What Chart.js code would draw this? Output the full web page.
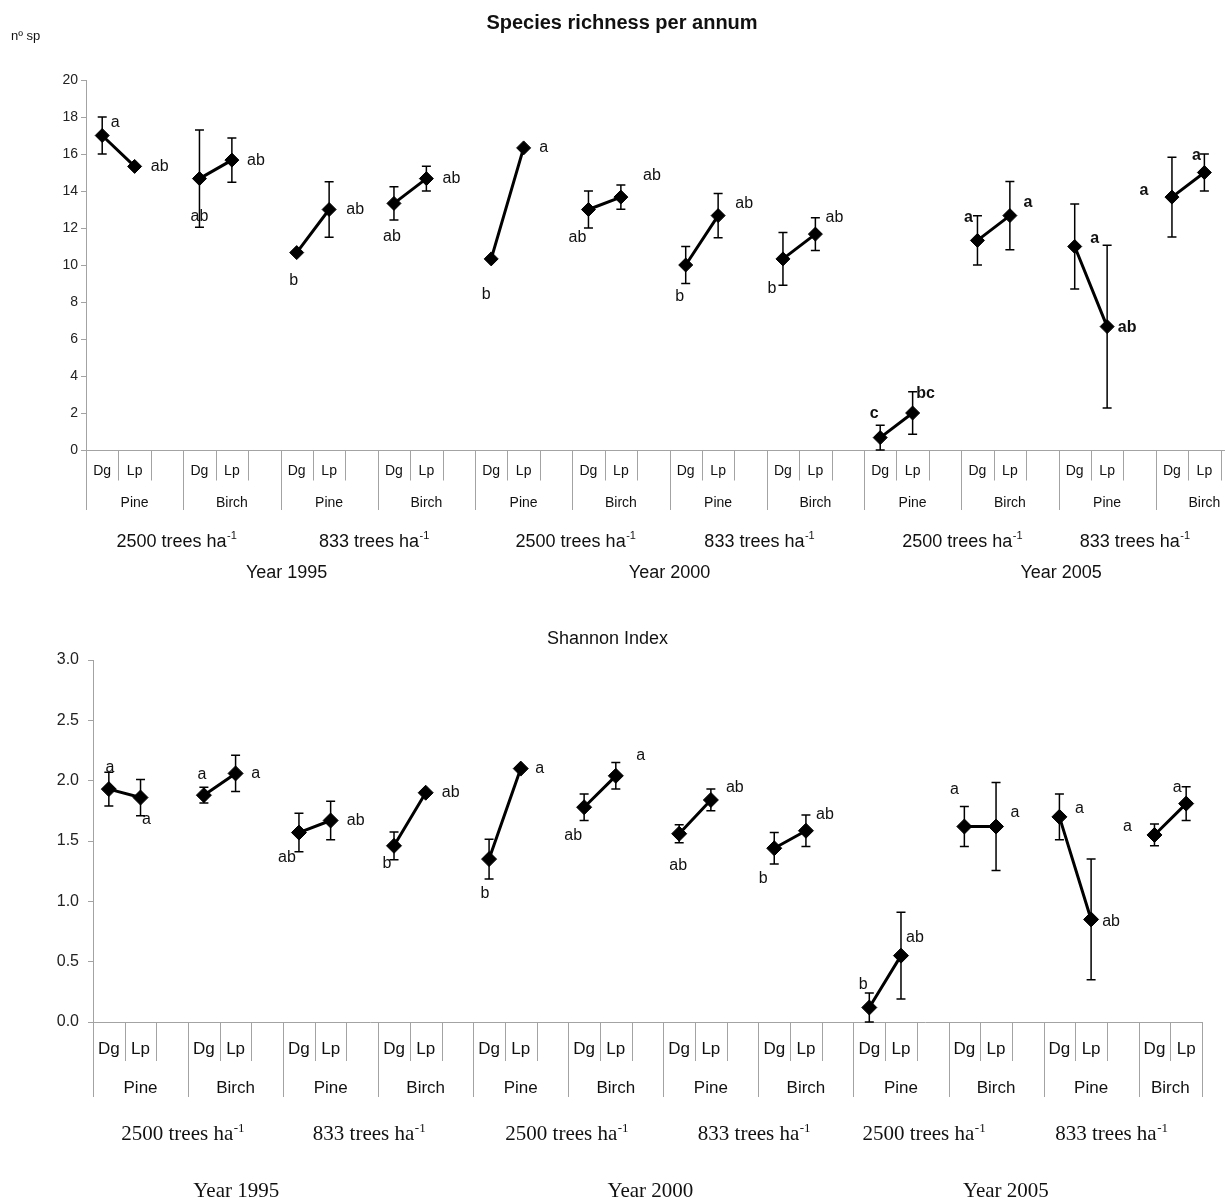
<!DOCTYPE html>
<html>
<head>
<meta charset="utf-8">
<script src="https://cdn.jsdelivr.net/npm/chart.js@4.4.1/dist/chart.umd.min.js"></script>
<style>
  html, body { margin: 0; padding: 0; background: #fff; overflow: hidden; }
  #wrap { position: relative; width: 1225px; height: 1200px; overflow: hidden; }
  #richChart { position: absolute; left: 0; top: 0; }
  #shannonChart { position: absolute; left: 0; top: 600px; }
</style>
</head>
<body>
<div id="wrap">
  <canvas id="richChart" width="1261" height="600"></canvas>
  <canvas id="shannonChart" width="1225" height="600"></canvas>
</div>
<script>
const SANS = "'Liberation Sans', Arial, sans-serif";
const SERIF = "'Liberation Serif', 'Times New Roman', serif";

// Category hierarchy (12 groups of Dg / Lp / blank)
const species = ["Dg", "Lp"];
const groups = ["Pine", "Birch", "Pine", "Birch", "Pine", "Birch", "Pine", "Birch", "Pine", "Birch", "Pine", "Birch"];
const densities = ["2500", "833", "2500", "833", "2500", "833"];
const years = ["Year 1995", "Year 2000", "Year 2005"];

// Species richness per annum (nº sp): means, error bars, significance letters
const richDg = [17.0, 14.67, 10.67, 13.33, 10.33, 13.0, 10.0, 10.33, 0.67, 11.33, 11.0, 13.67];
const richLp = [15.33, 15.67, 13.0, 14.67, 16.33, 13.67, 12.67, 11.67, 2.0, 12.67, 6.67, 15.0];
const richDgErr = [1.0, 2.63, 0, 0.9, 0, 1.0, 1.0, 1.43, 0.67, 1.33, 2.3, 2.16];
const richLpErr = [0, 1.2, 1.5, 0.67, 0, 0.65, 1.2, 0.88, 1.15, 1.85, 4.4, 1.0];
const richDgSig = ["a", "ab", "b", "ab", "b", "ab", "b", "b", "c", "a", "a", "a"];
const richLpSig = ["ab", "ab", "ab", "ab", "a", "ab", "ab", "ab", "bc", "a", "ab", "a"];
const richTicks = [0, 20, 2];

// Shannon index: means, error bars, significance letters
const shanDg = [1.93, 1.88, 1.57, 1.46, 1.35, 1.78, 1.56, 1.44, 0.12, 1.62, 1.70, 1.55];
const shanLp = [1.86, 2.06, 1.67, 1.90, 2.10, 2.04, 1.84, 1.585, 0.55, 1.62, 0.85, 1.81];
const shanDgErr = [0.14, 0.065, 0.16, 0.115, 0.165, 0.11, 0.075, 0.13, 0.12, 0.165, 0.19, 0.09];
const shanLpErr = [0.15, 0.15, 0.16, 0, 0, 0.11, 0.09, 0.13, 0.36, 0.365, 0.5, 0.14];
const shanDgSig = ["a", "a", "ab", "b", "b", "ab", "ab", "b", "b", "a", "a", "a"];
const shanLpSig = ["a", "a", "ab", "ab", "a", "a", "ab", "ab", "ab", "a", "ab", "a"];
const shanTicks = [0, 3, 0.5];

// where the letters sit next to each marker (px offsets)
const richDgOff = [[13,-13],[0,38],[-3,28],[-2,33],[-5,36],[-11,28],[-6,32],[-11,30],[-6,-24],[-9,-23],[20,-8],[-28,-7]];
const richLpOff = [[25,0],[24,0],[26,0],[25,0],[20,0],[31,-22],[26,-12],[19,-17],[13,-19],[18,-13],[20,1],[-8,-17]];
const shanDgOff = [[1,-22],[-2,-21],[-12,25],[-7,18],[-4,34],[-11,28],[-1,32],[-11,30],[-6,-23],[-10,-37],[20,-8],[-27,-8]];
const shanLpOff = [[6,22],[20,0],[25,0],[25,0],[19,0],[25,-20],[24,-12],[19,-16],[14,-18],[19,-14],[20,2],[-9,-16]];

// spread the per-group values over the Dg / Lp / blank slots
function slotSeries(dg, lp, n) {
  const out = [];
  for (let g = 0; g < groups.length; g++) out.push(dg[g], lp[g], null);
  return out.slice(0, n);
}
function slotLabels(n) {
  const out = [];
  for (let g = 0; g < groups.length; g++) out.push(species[0], species[1], "");
  return out.slice(0, n);
}

function errorBars(errs) {
  return {
    id: "errorBars",
    beforeDatasetsDraw(chart) {
      const { ctx, scales: { x, y } } = chart;
      const vals = chart.data.datasets[0].data;
      ctx.save();
      ctx.strokeStyle = "#000";
      ctx.lineWidth = 1.5;
      errs.forEach((e, i) => {
        const v = vals[i];
        if (v == null || !e) return;
        const px = x.getPixelForValue(i);
        const top = y.getPixelForValue(v + e);
        const bot = y.getPixelForValue(Math.max(0, v - e));
        ctx.beginPath();
        ctx.moveTo(px, top); ctx.lineTo(px, bot);
        ctx.moveTo(px - 4.5, top); ctx.lineTo(px + 4.5, top);
        ctx.moveTo(px - 4.5, bot); ctx.lineTo(px + 4.5, bot);
        ctx.stroke();
      });
      ctx.restore();
    }
  };
}

function letters(dgSig, lpSig, dgOff, lpOff, fontFor) {
  return {
    id: "letters",
    afterDatasetsDraw(chart) {
      const { ctx } = chart;
      const pts = chart.getDatasetMeta(0).data;
      ctx.save();
      ctx.fillStyle = "#111";
      ctx.textAlign = "center";
      ctx.textBaseline = "middle";
      groups.forEach((_, g) => {
        ctx.font = fontFor(g);
        const a = pts[3 * g], b = pts[3 * g + 1];
        ctx.fillText(dgSig[g], a.x + dgOff[g][0], a.y + dgOff[g][1]);
        ctx.fillText(lpSig[g], b.x + lpOff[g][0], b.y + lpOff[g][1]);
      });
      ctx.restore();
    }
  };
}

function hierarchyAxis(cfg) {
  return {
    id: "hierarchy",
    afterDraw(chart) {
      const { ctx } = chart;
      const x = chart.scales.x;
      const n = chart.data.labels.length;
      const slot = x.getPixelForValue(1) - x.getPixelForValue(0);
      const edge = k => x.getPixelForValue(0) - slot / 2 + k * slot;
      const base = x.top;
      ctx.save();
      ctx.strokeStyle = cfg.lineColor;
      ctx.lineWidth = 1;
      for (let k = 0; k <= n; k++) {
        const len = (k % 3 === 0 || k === n) ? cfg.longLen : cfg.shortLen;
        const px = Math.round(edge(k)) + 0.5;
        ctx.beginPath();
        ctx.moveTo(px, base);
        ctx.lineTo(px, base + len);
        ctx.stroke();
      }
      ctx.fillStyle = "#111";
      ctx.textBaseline = "alphabetic";
      ctx.textAlign = "center";
      ctx.font = cfg.groupFont;
      groups.forEach((name, g) => {
        const a = edge(3 * g), b = edge(Math.min(3 * g + 3, n));
        ctx.fillText(name, (a + b) / 2, base + cfg.groupY);
      });
      // density labels with superscript -1
      ctx.textAlign = "left";
      densities.forEach((d, i) => {
        const main = d + " trees ha";
        ctx.font = cfg.densFont;
        const w1 = ctx.measureText(main).width;
        ctx.font = cfg.supFont;
        const w2 = ctx.measureText("-1").width;
        const left = edge(0) + cfg.densPos[i] * slot - (w1 + w2) / 2;
        ctx.font = cfg.densFont;
        ctx.fillText(main, left, base + cfg.densY);
        ctx.font = cfg.supFont;
        ctx.fillText("-1", left + w1 + 0.5, base + cfg.densY - cfg.supRaise);
      });
      ctx.textAlign = "center";
      ctx.font = cfg.yearFont;
      years.forEach((yr, i) => {
        ctx.fillText(yr, edge(0) + cfg.yearPos[i] * slot, base + cfg.yearY);
      });
      ctx.restore();
    }
  };
}

function titles(items) {
  return {
    id: "titles",
    afterDraw(chart) {
      const { ctx } = chart;
      ctx.save();
      ctx.fillStyle = "#111";
      ctx.textBaseline = "alphabetic";
      items.forEach(t => {
        ctx.font = t.font;
        ctx.textAlign = t.align;
        ctx.fillText(t.text, t.x, t.y);
      });
      ctx.restore();
    }
  };
}

function lineDataset(values, radius) {
  return {
    data: values,
    borderColor: "#000",
    borderWidth: 3,
    pointStyle: "rectRot",
    pointRadius: radius,
    pointBorderWidth: 1,
    pointBackgroundColor: "#000",
    pointBorderColor: "#000",
    spanGaps: false,
    tension: 0
  };
}

const axisGrey = "#a3a3a3";

// ---- Species richness per annum ----
const richLabels = slotLabels(36);
new Chart(document.getElementById("richChart"), {
  type: "line",
  data: {
    labels: richLabels,
    datasets: [lineDataset(slotSeries(richDg, richLp, 36), 7)]
  },
  options: {
    responsive: false,
    animation: false,
    events: [],
    layout: { padding: { top: 80, left: 0, right: 0, bottom: 0 } },
    plugins: { legend: { display: false }, tooltip: { enabled: false }, title: { display: false } },
    scales: {
      x: {
        type: "category",
        offset: true,
        grid: { display: false, drawTicks: false },
        border: { display: true, color: axisGrey, width: 1 },
        ticks: { font: { family: SANS, size: 14 }, color: "#111", padding: 12.5, autoSkip: false, maxRotation: 0 },
        afterFit(s) { s.height = 150; }
      },
      y: {
        min: richTicks[0],
        max: richTicks[1],
        ticks: { stepSize: richTicks[2], font: { family: SANS, size: 14 }, color: "#222", padding: 3 },
        grid: { drawOnChartArea: false, tickLength: 5, color: axisGrey },
        border: { color: axisGrey, width: 1 },
        afterFit(s) { s.width = 86; }
      }
    }
  },
  plugins: [
    errorBars(slotSeries(richDgErr, richLpErr, 36)),
    letters(richDgSig, richLpSig, richDgOff, richLpOff, g => (g >= 8 ? "bold " : "") + "16px " + SANS),
    hierarchyAxis({
      lineColor: axisGrey, shortLen: 30.5, longLen: 60,
      groupFont: "14px " + SANS, groupY: 56.5,
      densFont: "18px " + SANS, supFont: "11px " + SANS, supRaise: 8, densY: 97,
      densPos: [2.79, 8.88, 15.10, 20.77, 27.03, 32.35],
      yearFont: "18px " + SANS, yearY: 128,
      yearPos: [6.19, 18.0, 30.08]
    }),
    titles([
      { text: "Species richness per annum", x: 622, y: 28.5, font: "bold 20px " + SANS, align: "center" },
      { text: "nº sp", x: 11, y: 40, font: "13px " + SANS, align: "left" }
    ])
  ]
});

// ---- Shannon Index ----
const shanLabels = slotLabels(35);
new Chart(document.getElementById("shannonChart"), {
  type: "line",
  data: {
    labels: shanLabels,
    datasets: [lineDataset(slotSeries(shanDg, shanLp, 35), 7.5)]
  },
  options: {
    responsive: false,
    animation: false,
    events: [],
    layout: { padding: { top: 60, left: 0, right: 23, bottom: 0 } },
    plugins: { legend: { display: false }, tooltip: { enabled: false }, title: { display: false } },
    scales: {
      x: {
        type: "category",
        offset: true,
        grid: { display: false, drawTicks: false },
        border: { display: true, color: axisGrey, width: 1 },
        ticks: { font: { family: SANS, size: 17 }, color: "#111", padding: 17, autoSkip: false, maxRotation: 0 },
        afterFit(s) { s.height = 178; }
      },
      y: {
        min: shanTicks[0],
        max: shanTicks[1],
        ticks: { stepSize: shanTicks[2], font: { family: SANS, size: 16 }, color: "#222", padding: 9,
                 callback: v => Number(v).toFixed(1) },
        grid: { drawOnChartArea: false, tickLength: 5, color: axisGrey },
        border: { color: axisGrey, width: 1 },
        afterFit(s) { s.width = 93; }
      }
    }
  },
  plugins: [
    errorBars(slotSeries(shanDgErr, shanLpErr, 35)),
    letters(shanDgSig, shanLpSig, shanDgOff, shanLpOff, () => "16px " + SANS),
    hierarchyAxis({
      lineColor: axisGrey, shortLen: 39, longLen: 75,
      groupFont: "17px " + SANS, groupY: 70.5,
      densFont: "21px " + SERIF, supFont: "13px " + SERIF, supRaise: 8, densY: 117.5,
      densPos: [2.83, 8.71, 14.95, 20.86, 26.22, 32.14],
      yearFont: "21px " + SERIF, yearY: 174.5,
      yearPos: [4.52, 17.59, 28.81]
    }),
    titles([
      { text: "Shannon Index", x: 607.5, y: 44, font: "18px " + SANS, align: "center" }
    ])
  ]
});
</script>
</body>
</html>
